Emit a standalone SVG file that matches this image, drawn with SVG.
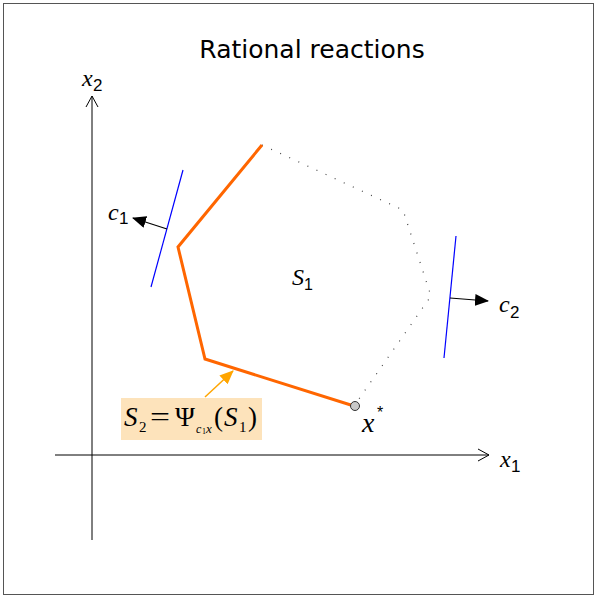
<svg xmlns="http://www.w3.org/2000/svg" width="597" height="598" viewBox="0 0 597 598">
<style>
.ax{stroke:#000;stroke-width:1;fill:none}
.it{font-family:"Liberation Serif",serif;font-style:italic;fill:#000}
.sub{font-family:"Liberation Sans",sans-serif;fill:#000}
.blue{stroke:#0000ff;stroke-width:1.2}
</style>
<defs>
<marker id="tri2" markerWidth="14" markerHeight="12" refX="13" refY="6" orient="auto" markerUnits="userSpaceOnUse"><path d="M0,0 L14,6 L0,12 Z" fill="#000"/></marker>
<marker id="otri" markerWidth="14" markerHeight="12" refX="13" refY="6" orient="auto" markerUnits="userSpaceOnUse"><path d="M0,0 L14,6 L0,12 Z" fill="#ffa500"/></marker>
</defs>
<rect x="0" y="0" width="597" height="598" fill="#fff"/>
<rect x="3.5" y="3.5" width="590" height="591" fill="none" stroke="#555" stroke-width="1"/>
<text x="312" y="58" text-anchor="middle" font-family="'Comic Sans MS','DejaVu Sans',sans-serif" font-size="25" fill="#000">Rational reactions</text>
<g id="axes">
<line class="ax" x1="55" y1="455" x2="489" y2="455"/>
<polyline class="ax" points="478,449 489,455 478,461"/>
<line class="ax" x1="92" y1="540" x2="92" y2="96"/>
<polyline class="ax" points="86,107 92,96 98,107"/>
<text class="it" x="500" y="467" font-size="24">x</text><text class="sub" x="511" y="472" font-size="17">1</text>
<text class="it" x="82" y="86" font-size="24">x</text><text class="sub" x="93" y="91" font-size="17">2</text>
</g>
<g id="region">
<polyline points="262,145 403,210 431,296 354,406" fill="none" stroke="#444" stroke-width="1.2" stroke-dasharray="1,9"/>
<polyline points="262,145 178,247 205,359 354,406" fill="none" stroke="#ff6600" stroke-width="3" stroke-linejoin="miter"/>
<circle cx="355" cy="406" r="4.5" fill="#c8c8c8" stroke="#333" stroke-width="1"/>
<text class="it" x="292" y="285" font-size="24">S</text><text class="sub" x="304" y="290" font-size="16">1</text>
<text class="it" x="362" y="432" font-size="28">x</text><text class="sub" x="377" y="418" font-size="16">*</text>
</g>
<g id="c1">
<line class="blue" x1="183" y1="170" x2="151" y2="287"/>
<line x1="167" y1="229" x2="133" y2="218" stroke="#000" stroke-width="1.2" marker-end="url(#tri2)"/>
<text class="it" x="108" y="220" font-size="24">c</text><text class="sub" x="119" y="224" font-size="17">1</text>
</g>
<g id="c2">
<line class="blue" x1="456" y1="236" x2="444" y2="358"/>
<line x1="450" y1="298" x2="488" y2="301" stroke="#000" stroke-width="1.2" marker-end="url(#tri2)"/>
<text class="it" x="499" y="312" font-size="24">c</text><text class="sub" x="510" y="318" font-size="17">2</text>
</g>
<g id="label">
<rect x="121" y="398" width="141" height="42" fill="#fde3bb"/>
<line x1="205" y1="397" x2="233" y2="371" stroke="#ffa500" stroke-width="1.5" marker-end="url(#otri)"/>
<text font-family="'Liberation Serif',serif" fill="#000" y="426" font-size="27"><tspan x="124" font-style="italic">S</tspan><tspan x="139" y="432" font-size="15">2</tspan><tspan x="150" y="426" textLength="20" lengthAdjust="spacingAndGlyphs">=</tspan><tspan x="175">Ψ</tspan><tspan x="196" y="433" font-size="12" font-style="italic">c</tspan><tspan x="202" y="434" font-size="8">1</tspan><tspan x="206" y="433" font-size="13" font-style="italic">x</tspan><tspan x="214" y="426">(</tspan><tspan x="224" font-style="italic">S</tspan><tspan x="239" y="432" font-size="15">1</tspan><tspan x="248" y="426">)</tspan></text>
</g>
</svg>
